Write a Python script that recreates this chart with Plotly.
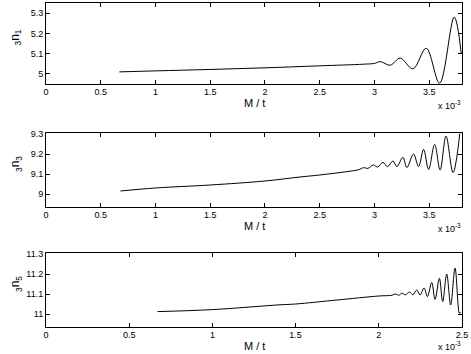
import plotly.graph_objects as go
from plotly.subplots import make_subplots

# values, x in units of 1e-3
n1_x = [0.67, 1.0, 1.5, 2.0, 2.5, 2.9, 3.0, 3.053, 3.144, 3.236, 3.352, 3.473, 3.595, 3.729, 3.793]
n1_y = [5.010, 5.015, 5.022, 5.030, 5.040, 5.048, 5.052, 5.061, 5.043, 5.078, 5.025, 5.127, 4.954, 5.281, 5.102]

n3_x = [0.68, 1.0, 1.5, 2.0, 2.32, 2.5, 2.75, 2.86, 2.90, 2.94, 2.99, 3.03, 3.077, 3.12, 3.169, 3.205,
        3.26, 3.297, 3.357, 3.403, 3.449, 3.495, 3.55, 3.6, 3.654, 3.718, 3.78]
n3_y = [9.015, 9.030, 9.045, 9.065, 9.085, 9.095, 9.112, 9.122, 9.132, 9.128, 9.145, 9.135, 9.158, 9.137,
        9.165, 9.137, 9.183, 9.132, 9.200, 9.137, 9.223, 9.123, 9.248, 9.120, 9.290, 9.107, 9.303]

n5_x = [0.67, 1.0, 1.406, 1.5, 1.75, 2.0, 2.08, 2.10, 2.12, 2.14, 2.16, 2.185, 2.205, 2.228, 2.248,
        2.272, 2.292, 2.318, 2.338, 2.364, 2.384, 2.408, 2.432, 2.458, 2.484, 2.49]
n5_y = [11.012, 11.022, 11.046, 11.050, 11.070, 11.090, 11.094, 11.100, 11.094, 11.104, 11.096, 11.110,
        11.096, 11.120, 11.095, 11.130, 11.087, 11.157, 11.073, 11.178, 11.062, 11.200, 11.045, 11.230,
        11.003, 11.010]

panels = [
    (n1_x, n1_y, "<sub>3</sub>n<sub>1</sub>", [0, 3.8], [4.95, 5.351], [0, 0.5, 1, 1.5, 2, 2.5, 3, 3.5],
     [5, 5.1, 5.2, 5.3], (3, 84)),
    (n3_x, n3_y, "<sub>3</sub>n<sub>3</sub>", [0, 3.8], [8.935, 9.305], [0, 0.5, 1, 1.5, 2, 2.5, 3, 3.5],
     [9, 9.1, 9.2, 9.3], (133, 207)),
    (n5_x, n5_y, "<sub>3</sub>n<sub>5</sub>", [0, 2.5], [10.935, 11.305], [0, 0.5, 1, 1.5, 2, 2.5],
     [11, 11.1, 11.2, 11.3], (253, 327)),
]

W, H = 471, 354
X0, X1 = 46, 462
FONT = "Liberation Sans, Arial, sans-serif"

fig = make_subplots(rows=3, cols=1)

for i, (xs, ys, lab, xr, yr, xt, yt, (top, bot)) in enumerate(panels, start=1):
    fig.add_trace(
        go.Scatter(x=xs, y=ys, mode="lines", line=dict(color="black", width=1, shape="spline", smoothing=1.0),
                   showlegend=False, hoverinfo="skip"),
        row=i, col=1,
    )
    ax = dict(showline=True, linecolor="black", linewidth=1, mirror="ticks", ticks="inside", ticklen=4,
              tickcolor="black", showgrid=False, zeroline=False, automargin=False,
              tickfont=dict(family=FONT, size=9, color="black"))
    fig.update_xaxes(ax, range=xr, tickvals=xt, ticktext=[f"{v:g}" for v in xt], ticklabelstandoff=-1,
                     domain=[X0 / W, X1 / W], row=i, col=1)
    fig.update_yaxes(ax, range=yr, tickvals=yt, ticktext=[f"{v:g}" for v in yt],
                     domain=[1 - bot / H, 1 - top / H], row=i, col=1)
    # axis title, exponent and y label
    fig.add_annotation(x=(X0 + X1) / 2 / W, y=1 - (bot + 19) / H, xref="paper", yref="paper", text="M / t",
                       xanchor="center", yanchor="middle", showarrow=False,
                       font=dict(family=FONT, size=11, color="black"))
    fig.add_annotation(x=(X1 + 1) / W, y=max(0, 1 - (bot + 29) / H), xref="paper", yref="paper",
                       xanchor="right", yanchor="bottom", text="x 10<sup>-3</sup>", showarrow=False,
                       font=dict(family=FONT, size=9, color="black"))
    fig.add_annotation(x=16 / W, y=1 - (top + bot - 12) / 2 / H, xref="paper", yref="paper", text=lab,
                       xanchor="center", yanchor="middle", textangle=-90, showarrow=False,
                       font=dict(family=FONT, size=12, color="black"))

fig.update_layout(
    width=W, height=H,
    margin=dict(l=0, r=0, t=0, b=0),
    plot_bgcolor="white", paper_bgcolor="white",
)

fig.write_html("out.html", config={"displayModeBar": False},
               post_script="document.body.style.margin='0';")
